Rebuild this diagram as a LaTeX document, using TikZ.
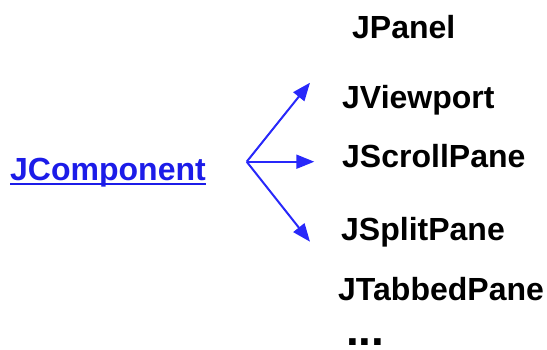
\documentclass[tikz,border=0pt]{standalone}
\usepackage{fontspec}
\setmainfont{Liberation Sans}
\usetikzlibrary{arrows.meta}
\definecolor{linkblue}{RGB}{28,28,232}
\definecolor{arrowblue}{RGB}{40,40,250}
\tikzset{
  lbl/.style={anchor=base west, inner sep=0pt, font=\fontsize{32}{38}\selectfont\bfseries},
  arr/.style={draw=arrowblue, line width=2pt, -{Triangle[length=18pt,width=14pt]}}
}
\begin{document}
\begin{tikzpicture}[x=1pt,y=-1pt]
\useasboundingbox (0,0) rectangle (547,349);
\node[lbl, text=linkblue] (jc) at (10,180) {JComponent};
\draw[linkblue, line width=2pt] ([yshift=-3.5pt]jc.base west) -- ([yshift=-3.5pt]jc.base east);
\node[lbl] (jpanel) at (352,38) {JPanel};
\node[lbl] (jview) at (342,108) {JViewport};
\node[lbl] (jscroll) at (342,167) {JScrollPane};
\node[lbl] (jsplit) at (341,240) {JSplitPane};
\node[lbl] (jtab) at (338,300) {JTabbedPane};
\node[lbl, font=\fontsize{46}{50}\selectfont\bfseries] (dots) at (346,345) {...};
\coordinate (o) at (246.7,161.7);
\coordinate (t1) at (310,82.7);
\coordinate (t2) at (314.3,161.7);
\coordinate (t3) at (310,241.7);
\draw[arr] (o) -- (t1);
\draw[arr] (o) -- (t2);
\draw[arr] (o) -- (t3);
\end{tikzpicture}
\end{document}
